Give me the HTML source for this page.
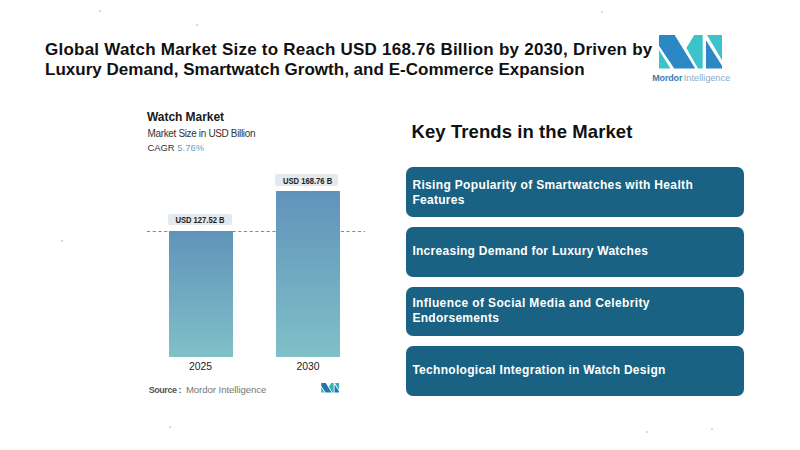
<!DOCTYPE html>
<html>
<head>
<meta charset="utf-8">
<style>
html,body{margin:0;padding:0;}
body{width:800px;height:450px;position:relative;overflow:hidden;background:#fff;font-family:"Liberation Sans",sans-serif;}
.a{position:absolute;white-space:nowrap;line-height:1;}
.title{left:45px;font-weight:bold;font-size:17px;color:#111;}
.wm{left:147px;top:110.9px;font-weight:bold;font-size:12px;letter-spacing:-0.05px;color:#1a1a1a;}
.sub{left:147.5px;font-size:10px;color:#333;}
.lbl{position:absolute;background:#e3e9ed;border-radius:2px;height:11.2px;}
.lbl:after{content:"";position:absolute;left:50%;margin-left:-2.5px;bottom:-2.5px;border-left:2.5px solid transparent;border-right:2.5px solid transparent;border-top:2.5px solid #eef2f4;}
.lbl span{position:absolute;left:-19.8px;right:-20.2px;text-align:center;font-weight:bold;font-size:8.9px;transform:scaleX(0.86);color:#222;top:2.3px;line-height:1;}
.bar{position:absolute;background:linear-gradient(#6093ba,#80c0c8);}
.yr{position:absolute;font-size:10.4px;color:#222;text-align:center;width:64px;line-height:1;}
.kt{left:411.5px;top:123px;font-weight:bold;font-size:18.5px;letter-spacing:0.08px;color:#111;}
.box{position:absolute;left:406px;width:338px;height:49.5px;background:#196283;border-radius:7px;}
.box div{position:absolute;left:6.4px;font-weight:bold;font-size:12px;letter-spacing:0.28px;color:#fff;line-height:15.4px;}
</style>
</head>
<body>
<div class="a title" style="top:40.6px;letter-spacing:0.235px">Global Watch Market Size to Reach USD 168.76 Billion by 2030, Driven by</div>
<div class="a title" style="top:61.4px;letter-spacing:0.02px">Luxury Demand, Smartwatch Growth, and E-Commerce Expansion</div>

<!-- logo -->
<svg class="a" style="left:658.9px;top:35.1px" width="63.1" height="33.6" viewBox="42 55 676 360">
  <polygon points="42,215 42,415 165,415" fill="#3cc3c9"/>
  <polygon points="42,55 210,55 430,415 205,415 42,170" fill="#2b88c4"/>
  <polygon points="420,55 510,55 510,415 460,415 335,195" fill="#3cc3c9"/>
  <polygon points="557,55 718,55 718,327" fill="#3cc3c9"/>
  <polygon points="545,111 545,415 718,415 718,387" fill="#2b88c4"/>
</svg>
<div class="a" style="left:652.2px;top:74px;font-size:9px;font-weight:bold;letter-spacing:-0.15px;color:#3c7bb2">Mordor</div>
<div class="a" style="left:683.8px;top:74px;font-size:9.1px;letter-spacing:0.05px;color:#86abcd">Intelligence</div>

<div class="a wm">Watch Market</div>
<div class="a sub" style="top:129.2px;letter-spacing:-0.35px">Market Size in USD Billion</div>
<div class="a sub" style="top:143px;font-size:9.4px">CAGR <span style="color:#6d9cc5;letter-spacing:0.1px">5.76%</span></div>

<!-- dashed line -->
<svg class="a" style="left:146.5px;top:231px" width="218" height="2"><line x1="0" y1="0.5" x2="218" y2="0.5" stroke="#8a8a8a" stroke-width="1" stroke-dasharray="3.2,2.5"/></svg>

<div class="lbl" style="left:168px;top:214px;width:64px"><span>USD 127.52 B</span></div>
<div class="lbl" style="left:275.3px;top:174.4px;width:63.2px"><span>USD 168.76 B</span></div>
<div class="bar" style="left:168.5px;top:231px;width:64.2px;height:125.7px"></div>
<div class="bar" style="left:276px;top:191.2px;width:64px;height:165.5px"></div>
<div class="yr" style="left:168.5px;top:361.6px">2025</div>
<div class="yr" style="left:276px;top:361.6px">2030</div>

<div class="a" style="left:148.7px;top:385.9px;font-size:9px;font-weight:bold;letter-spacing:-0.45px;color:#555">Source :</div>
<div class="a" style="left:185.9px;top:385.2px;font-size:9.6px;letter-spacing:-0.06px;color:#777">Mordor Intelligence</div>
<svg class="a" style="left:320.8px;top:383.3px" width="18.4" height="9.5" viewBox="42 55 676 360">
  <polygon points="42,215 42,415 165,415" fill="#33b2bb"/>
  <polygon points="42,55 210,55 430,415 205,415 42,170" fill="#2277ab"/>
  <polygon points="420,55 510,55 510,415 460,415 335,195" fill="#33b2bb"/>
  <polygon points="557,55 718,55 718,327" fill="#33b2bb"/>
  <polygon points="545,111 545,415 718,415 718,387" fill="#2277ab"/>
</svg>

<div class="a kt">Key Trends in the Market</div>
<div class="box" style="top:167px"><div style="top:10.6px;line-height:15.8px"><span style="letter-spacing:0.34px">Rising Popularity of Smartwatches with Health</span><br>Features</div></div>
<div class="box" style="top:227px"><div style="top:17.1px">Increasing Demand for Luxury Watches</div></div>
<div class="box" style="top:286.5px"><div style="top:9.2px"><span style="letter-spacing:0.38px">Influence of Social Media and Celebrity</span><br>Endorsements</div></div>
<div class="box" style="top:346px"><div style="top:17.1px;letter-spacing:0.29px">Technological Integration in Watch Design</div></div>
<div style="position:absolute;left:99.25px;top:10.25px;width:1.5px;height:1.5px;border-radius:50%;background:#d4d4d4"></div><div style="position:absolute;left:196.25px;top:24.25px;width:1.5px;height:1.5px;border-radius:50%;background:#d4d4d4"></div><div style="position:absolute;left:61.25px;top:240.25px;width:1.5px;height:1.5px;border-radius:50%;background:#d4d4d4"></div><div style="position:absolute;left:169.25px;top:426.25px;width:1.5px;height:1.5px;border-radius:50%;background:#d4d4d4"></div><div style="position:absolute;left:601.25px;top:11.25px;width:1.5px;height:1.5px;border-radius:50%;background:#d4d4d4"></div><div style="position:absolute;left:646.25px;top:431.25px;width:1.5px;height:1.5px;border-radius:50%;background:#d4d4d4"></div><div style="position:absolute;left:711.25px;top:428.25px;width:1.5px;height:1.5px;border-radius:50%;background:#d4d4d4"></div>
</body>
</html>
